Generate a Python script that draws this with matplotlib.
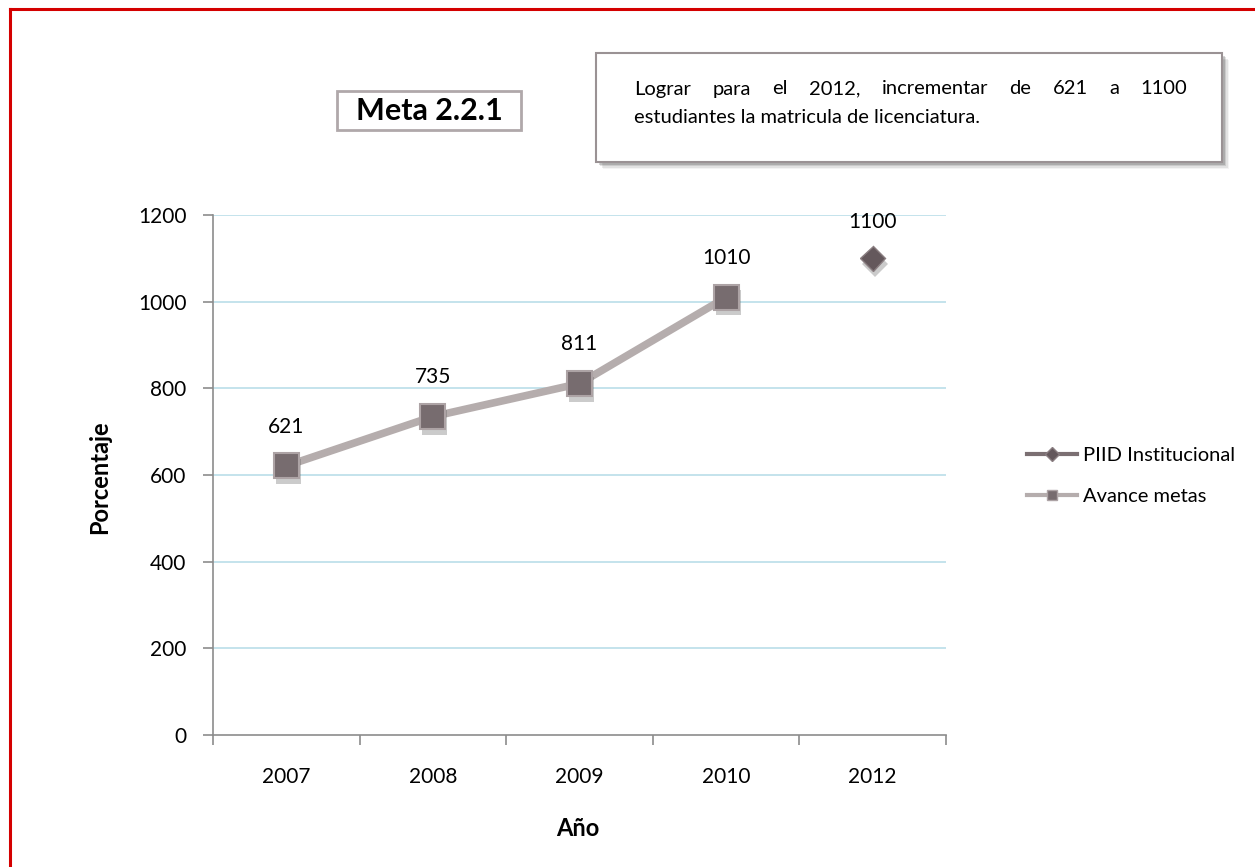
import matplotlib
matplotlib.use("Agg")
import matplotlib.pyplot as plt
import matplotlib.patheffects as pe
from matplotlib.patches import Rectangle
from matplotlib.lines import Line2D
import numpy as np

plt.rcParams['font.family'] = ['Lato', 'DejaVu Sans']

years = ['2007', '2008', '2009', '2010', '2012']
avance = [621, 735, 811, 1010, np.nan]
piid = [np.nan, np.nan, np.nan, np.nan, 1100]
y_ticks = [0, 200, 400, 600, 800, 1000, 1200]

title_text = 'Meta 2.2.1'
desc_line1 = 'Lograr para el 2012, incrementar de 621 a 1100'
desc_line2 = 'estudiantes la matricula de licenciatura.'

W, H = 1255, 867
fig = plt.figure(figsize=(W / 100, H / 100), dpi=100)
fig.patch.set_facecolor('white')

def fx(px):
    return px / W

def fy(py):
    return 1 - py / H

ax = fig.add_axes([fx(213), fy(735), fx(946) - fx(213), fy(215) - fy(735)])
x = np.arange(len(years))

grid_c = '#bfe0ea'
for v in y_ticks[1:]:
    ax.axhline(v, color=grid_c, lw=1.3, zorder=0)

line_c = '#b5adad'
shadow = [pe.SimplePatchShadow(offset=(1.5, -4), alpha=0.3, shadow_rgbFace='#555555'), pe.Normal()]
ax.plot(x, avance, color=line_c, lw=5.5, solid_capstyle='round', zorder=2)
ax.plot(x, avance, linestyle='none', marker='s', markersize=18,
        markerfacecolor='#776c6f', markeredgecolor='#ada3a5', markeredgewidth=1.5,
        zorder=3, path_effects=shadow)
ax.plot(x, piid, color='#7b6f72', lw=3, marker='D', markersize=13,
        markerfacecolor='#64585c', markeredgecolor='#8a7e81', markeredgewidth=1,
        zorder=3, path_effects=shadow)

for xi, v in zip(x, avance):
    if not np.isnan(v):
        ax.annotate(f'{int(v)}', (xi, v), xytext=(0, 21), textcoords='offset points',
                    ha='center', va='bottom', fontsize=15, color='black')
for xi, v in zip(x, piid):
    if not np.isnan(v):
        ax.annotate(f'{int(v)}', (xi, v), xytext=(0, 19), textcoords='offset points',
                    ha='center', va='bottom', fontsize=15, color='black')

ax.set_xlim(-0.5, len(years) - 0.5)
ax.set_ylim(0, 1200)
ax.set_yticks(y_ticks)
ax.set_yticklabels([str(v) for v in y_ticks], fontsize=15)
ax.set_xticks(np.arange(-0.5, len(years), 1.0))
ax.set_xticklabels([])
ax.set_xticks(x, minor=True)
ax.set_xticklabels(years, minor=True, fontsize=15)
ax.tick_params(axis='x', which='minor', length=0, pad=23)
ax.tick_params(axis='x', which='major', length=7, color='#8c8c8c', direction='out', width=1.2)
ax.tick_params(axis='y', length=7, color='#8c8c8c', direction='out', width=1.2, pad=12)
for s in ['top', 'right']:
    ax.spines[s].set_visible(False)
for s in ['left', 'bottom']:
    ax.spines[s].set_color('#8c8c8c')
    ax.spines[s].set_linewidth(1.2)

fig.text(fx(100), fy(477), 'Porcentaje', rotation=90, ha='center', va='center',
         fontsize=17, fontweight='bold')
fig.text(fx(578), fy(829), 'Año', ha='center', va='center', fontsize=17, fontweight='bold')

# Legend
handles = [
    Line2D([0], [0], color='#7b6f72', lw=3, marker='D', markersize=7,
           markerfacecolor='#64585c', markeredgecolor='#8a7e81'),
    Line2D([0], [0], color=line_c, lw=3, marker='s', markersize=7,
           markerfacecolor='#776c6f', markeredgecolor='#ada3a5'),
]
fig.legend(handles, ['PIID Institucional', 'Avance metas'], loc='center left',
           bbox_to_anchor=(fx(1017), fy(476)), frameon=False, fontsize=14.5,
           handlelength=2.5, handletextpad=0.3, labelspacing=1.2, borderpad=0)

# Title box "Meta 2.2.1"
fig.patches.append(Rectangle((fx(337), fy(130)), fx(521) - fx(337), fy(91) - fy(130),
                             transform=fig.transFigure, facecolor='white',
                             edgecolor='#b0a8aa', lw=2, zorder=5))
fig.text(fx(429), fy(111), title_text, ha='center', va='center', fontsize=22,
         fontweight='bold', zorder=6)

# Description box with shadow
for i, a in enumerate([0.06, 0.1, 0.15, 0.22]):
    off = 7 - i * 1.5
    fig.patches.append(Rectangle((fx(596 + off), fy(162 + off)), fx(1222) - fx(596), fy(53) - fy(162),
                                 transform=fig.transFigure, facecolor='#444444',
                                 edgecolor='none', alpha=a, zorder=4))
fig.patches.append(Rectangle((fx(596), fy(162)), fx(1222) - fx(596), fy(53) - fy(162),
                             transform=fig.transFigure, facecolor='white',
                             edgecolor='#9a9294', lw=1.5, zorder=5))

# justified first line
renderer = fig.canvas.get_renderer()
fs_desc = 14.5
words = desc_line1.split(' ')
x0, x1 = 634, 1187
ws = []
for w in words:
    t = fig.text(0, 0, w, fontsize=fs_desc)
    bb = t.get_window_extent(renderer)
    ws.append(bb.width)
    t.remove()
gap = (x1 - x0 - sum(ws)) / (len(words) - 1)
cx = x0
for w, wd in zip(words, ws):
    fig.text(fx(cx), fy(89), w, fontsize=fs_desc, ha='left', va='center', zorder=6)
    cx += wd + gap
fig.text(fx(x0), fy(117), desc_line2, fontsize=fs_desc, ha='left', va='center', zorder=6)

# red border (top and left)
fig.add_artist(Line2D([fx(10), 1.02], [fy(9), fy(9)], transform=fig.transFigure,
                      color='#d40000', lw=2.2))
fig.add_artist(Line2D([fx(10), fx(10)], [fy(9), -0.02], transform=fig.transFigure,
                      color='#d40000', lw=2.2))

fig.savefig('out.png', dpi=100, facecolor='white')
